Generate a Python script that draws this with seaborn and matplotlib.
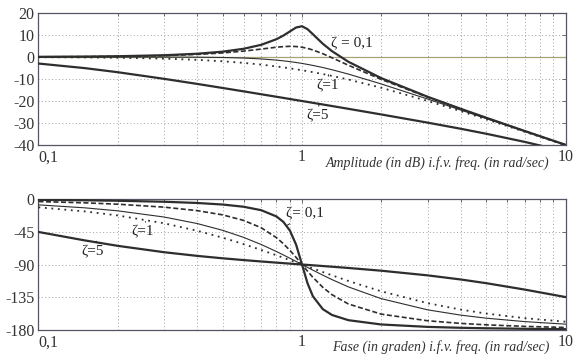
import matplotlib
matplotlib.use("Agg")
import matplotlib.pyplot as plt
import seaborn as sns
import pandas as pd
from matplotlib.ticker import NullFormatter, LogLocator, FixedLocator

# ---------------- data ----------------
freq = [0.1, 0.15, 0.2, 0.3, 0.4, 0.5, 0.6, 0.7, 0.8, 0.85, 0.9, 0.95, 1.0,
        1.05, 1.1, 1.2, 1.3, 1.5, 2, 3, 4, 5, 7, 10]

zetas = ["0.1", "0.3", "0.7", "1", "5"]

mag_z01 = [0.09, 0.19, 0.35, 0.80, 1.48, 2.42, 3.73, 5.53, 8.09, 9.75, 11.64, 13.41, 13.98,
           12.63, 10.34, 6.00, 2.65, -2.18, -9.62, -18.09, -23.53, -27.61, -33.63, -39.91]
mag_z03 = [0.07, 0.16, 0.29, 0.65, 1.17, 1.85, 2.68, 3.60, 4.44, 4.72, 4.85, 4.76, 4.44,
           3.90, 3.19, 1.48, -0.35, -3.75, -10.19, -18.28, -23.63, -27.67, -33.66, -39.93]
mag_z07 = [0.00, 0.00, 0.00, -0.02, -0.08, -0.22, -0.47, -0.87, -1.41, -1.74, -2.11, -2.50, -2.92,
           -3.37, -3.83, -4.79, -5.79, -7.76, -12.26, -19.12, -24.09, -27.96, -33.80, -40.00]
mag_z1 = [-0.09, -0.19, -0.34, -0.75, -1.29, -1.94, -2.67, -3.46, -4.30, -4.72, -5.15, -5.59, -6.02,
          -6.46, -6.89, -7.75, -8.60, -10.24, -13.98, -20.00, -24.61, -28.30, -33.98, -40.09]
mag_z5 = [-2.97, -5.06, -6.92, -9.93, -12.23, -14.08, -15.61, -16.93, -18.07, -18.59, -19.09, -19.56, -20.00,
          -20.42, -20.83, -21.59, -22.29, -23.55, -26.12, -29.84, -32.61, -34.88, -38.58, -42.97]

ph_z01 = [-1.16, -1.76, -2.39, -3.77, -5.44, -7.59, -10.62, -15.35, -23.96, -31.49, -43.45, -62.83, -90.0,
          -116.01, -133.67, -151.39, -159.35, -166.50, -172.41, -175.71, -176.95, -177.61, -178.33, -178.84]
ph_z03 = [-3.47, -5.26, -7.13, -11.19, -15.95, -21.80, -29.36, -39.47, -53.13, -61.45, -70.62, -80.29, -90.0,
          -99.24, -107.65, -121.43, -131.50, -144.25, -158.20, -167.32, -170.91, -172.87, -175.00, -176.53]
ph_z07 = [-8.05, -12.13, -16.26, -24.78, -33.69, -43.03, -52.70, -62.50, -72.18, -76.87, -81.43, -85.81, -90.0,
          -93.99, -97.77, -104.68, -110.76, -120.76, -136.97, -152.30, -159.53, -163.74, -168.46, -171.95]
ph_z1 = [-11.42, -17.06, -22.62, -33.40, -43.60, -53.13, -61.93, -70.00, -77.32, -80.73, -83.97, -87.06, -90.0,
         -92.79, -95.45, -100.39, -104.86, -112.62, -126.87, -143.13, -151.93, -157.38, -163.74, -168.58]
ph_z5 = [-45.29, -56.91, -64.36, -73.13, -78.14, -81.47, -83.91, -85.83, -87.42, -88.13, -88.79, -89.41, -90.0,
         -90.56, -91.09, -92.10, -93.04, -94.76, -98.53, -104.93, -110.56, -115.64, -124.44, -134.71]

x_ticks = [0.1, 1, 10]
x_ticklabels = ["0,1", "1", "10"]
mag_ticks = [20, 10, 0, -10, -20, -30, -40]
ph_ticks = [0, -45, -90, -135, -180]

mag_label = "Amplitude (in dB) i.f.v. freq. (in rad/sec)"
ph_label = "Fase (in graden) i.f.v. freq. (in rad/sec)"

# ---------------- styling ----------------
sns.set_theme(style="white")
plt.rcParams["font.family"] = ["Liberation Serif", "DejaVu Serif"]

ink = "#2e2e2e"
styles = {
    "0.1": dict(lw=1.6, ls="-"),
    "0.3": dict(lw=1.2, ls=(0, (3, 1.5))),
    "0.7": dict(lw=0.8, ls="-"),
    "1":   dict(lw=1.3, ls=(0, (1, 2.6))),
    "5":   dict(lw=1.6, ls="-"),
}

mag = dict(zip(zetas, [mag_z01, mag_z03, mag_z07, mag_z1, mag_z5]))
ph = dict(zip(zetas, [ph_z01, ph_z03, ph_z07, ph_z1, ph_z5]))

fig = plt.figure(figsize=(5.76, 3.6), dpi=100)
ax1 = fig.add_axes([0.0668, 0.5972, 0.915, 0.3667])
ax2 = fig.add_axes([0.0668, 0.0833, 0.915, 0.3639])


def style_axes(ax, yticks, ylim):
    ax.set_xscale("log")
    ax.set_xlim(0.1, 10)
    ax.set_ylim(*ylim)
    ax.xaxis.set_major_locator(FixedLocator(x_ticks))
    ax.set_xticklabels(x_ticklabels)
    ax.xaxis.set_minor_locator(LogLocator(base=10, subs=range(2, 10)))
    ax.xaxis.set_minor_formatter(NullFormatter())
    ax.set_yticks(yticks)
    ax.set_yticklabels([str(t) for t in yticks])
    ax.grid(True, which="both", axis="x", color="#a0a0a0", lw=0.7, ls=(0, (1, 2.5)))
    ax.grid(True, which="major", axis="y", color="#a0a0a0", lw=0.7, ls=(0, (1, 2.5)))
    ax.tick_params(axis="both", which="both", direction="in", top=True, right=True,
                   length=3, width=0.6, colors="#555555", labelcolor="#333333", labelsize=11.5,
                   pad=3)
    ax.tick_params(axis="both", which="minor", length=2)
    labs = ax.get_xticklabels()
    labs[0].set_horizontalalignment("left")
    for sp in ax.spines.values():
        sp.set_color("#555566")
        sp.set_linewidth(0.9)
    ax.set_xlabel("")
    ax.set_ylabel("")


# ---------- magnitude ----------
ax1.axhline(0, color="#a6a276", lw=0.9, zorder=1)
for z in zetas:
    sns.lineplot(x=freq, y=mag[z], ax=ax1, color=ink, linewidth=styles[z]["lw"],
                 linestyle=styles[z]["ls"], legend=False, zorder=3)
style_axes(ax1, mag_ticks, (-40, 20))
ax1.text(0.97, -0.14, mag_label, transform=ax1.transAxes, ha="right", va="center",
         fontsize=10, style="italic", color="#333333")

txt = dict(fontsize=11, color="#222222", ha="center", va="center")
ax1.text(1.55, 6.0, "ζ = 0,1", **txt)
ax1.annotate("ζ=1", xy=(1.26, -8.0), xytext=(1.25, -13.2), **txt,
             arrowprops=dict(arrowstyle="-", color="#222222", lw=0.7, shrinkA=3, shrinkB=0))
ax1.annotate("ζ=5", xy=(1.16, -21.2), xytext=(1.15, -26.8), **txt,
             arrowprops=dict(arrowstyle="-", color="#222222", lw=0.7, shrinkA=3, shrinkB=0))

# ---------- phase ----------
for z in zetas:
    sns.lineplot(x=freq, y=ph[z], ax=ax2, color=ink, linewidth=styles[z]["lw"],
                 linestyle=styles[z]["ls"], legend=False, zorder=3)
style_axes(ax2, ph_ticks, (-180, 0))
ax2.text(0.97, -0.13, ph_label, transform=ax2.transAxes, ha="right", va="center",
         fontsize=10, style="italic", color="#333333")

ax2.annotate("ζ= 0,1", xy=(0.88, -36.0), xytext=(1.03, -20.5), **txt,
             arrowprops=dict(arrowstyle="-", color="#222222", lw=0.7, shrinkA=4, shrinkB=0))
ax2.annotate("ζ=1", xy=(0.255, -31.0), xytext=(0.249, -45.3), **txt,
             arrowprops=dict(arrowstyle="-", color="#222222", lw=0.7, shrinkA=4, shrinkB=0))
ax2.annotate("ζ=5", xy=(0.166, -58.0), xytext=(0.16, -72.8), **txt,
             arrowprops=dict(arrowstyle="-", color="#222222", lw=0.7, shrinkA=4, shrinkB=0))

fig.savefig("out.png", dpi=100, facecolor="white")
